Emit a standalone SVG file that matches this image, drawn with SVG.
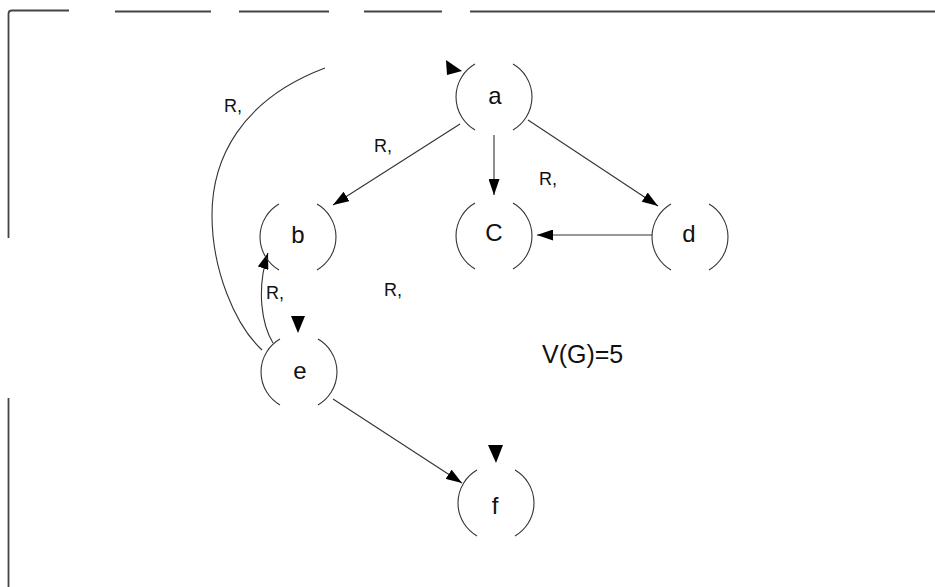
<svg xmlns="http://www.w3.org/2000/svg" xmlns:xlink="http://www.w3.org/1999/xlink" width="935" height="587" viewBox="0 0 935 587">
  <style>
    .frame { stroke: #444; stroke-width: 1.8; fill: none; }
    .ring { stroke: #333; stroke-width: 1.1; fill: none; }
    .edge { stroke: #333; stroke-width: 1.1; fill: none; }
    .head { fill: #000; }
    .node-label { font-family: "Liberation Sans", Arial, sans-serif; font-size: 24px; fill: #111; text-anchor: middle; }
    .region { font-family: "Liberation Sans", Arial, sans-serif; font-size: 18px; fill: #111; }
    .formula { font-family: "Liberation Sans", Arial, sans-serif; font-size: 25px; fill: #111; }
  </style>
  <defs>
    <!-- broken circle: left and right arcs with gaps at top and bottom -->
    <path id="ring" d="M-19,-32.9 A38,38 0 0 0 -19,32.9 M19,-32.9 A38,38 0 0 1 19,32.9"/>
    <marker id="arrow" markerUnits="userSpaceOnUse" markerWidth="16" markerHeight="11" refX="16" refY="5.5" orient="auto">
      <path d="M0,0 L16,5.5 L0,11 z" fill="#000"/>
    </marker>
  </defs>
  <rect width="935" height="587" fill="#fff"/>

  <!-- page frame fragments -->
  <g id="frame" class="frame">
    <path d="M8.5,238 V14 Q8.5,10.5 12,10.5 H69"/>
    <path d="M115,11.5 H211"/>
    <path d="M239,11.5 H329"/>
    <path d="M364,11.5 H442"/>
    <path d="M470,11.5 H935"/>
    <path d="M8.5,398 V587"/>
  </g>

  <!-- connectors -->
  <g id="connectors">
    <path class="edge" d="M460,124 L333,205" marker-end="url(#arrow)"/>
    <path class="edge" d="M494,135 L494,195" marker-end="url(#arrow)"/>
    <path class="edge" d="M528,120 L658,206" marker-end="url(#arrow)"/>
    <path class="edge" d="M652,235 L537,235" marker-end="url(#arrow)"/>
    <path class="edge" d="M333,399 L462,483" marker-end="url(#arrow)"/>
    <path class="edge" d="M273,343 C262,325 256,290 268,253" marker-end="url(#arrow)"/>
    <path class="edge" d="M262,350 C235,325 212,270 212,215 C212,160 240,100 325,68"/>
    <polygon class="head" points="446,60 447,75 462,71"/>
    <polygon class="head" points="291,316 305,316 298,333"/>
    <polygon class="head" points="488,445 503,445 496,463"/>
  </g>

  <!-- nodes -->
  <g id="node-a">
    <use xlink:href="#ring" href="#ring" class="ring" transform="translate(494,97)"/>
    <text class="node-label" x="495" y="104">a</text>
  </g>
  <g id="node-b">
    <use xlink:href="#ring" href="#ring" class="ring" transform="translate(298,237)"/>
    <text class="node-label" x="298" y="243">b</text>
  </g>
  <g id="node-c">
    <use xlink:href="#ring" href="#ring" class="ring" transform="translate(494,236)"/>
    <text class="node-label" x="494" y="241">C</text>
  </g>
  <g id="node-d">
    <use xlink:href="#ring" href="#ring" class="ring" transform="translate(690,237)"/>
    <text class="node-label" x="689" y="242">d</text>
  </g>
  <g id="node-e">
    <use xlink:href="#ring" href="#ring" class="ring" transform="translate(299,372)"/>
    <text class="node-label" x="300" y="379">e</text>
  </g>
  <g id="node-f">
    <use xlink:href="#ring" href="#ring" class="ring" transform="translate(496,503)"/>
    <text class="node-label" x="495" y="514">f</text>
  </g>

  <!-- region labels and complexity -->
  <g id="labels">
    <text class="region" x="224" y="112">R,</text>
    <text class="region" x="374" y="152">R,</text>
    <text class="region" x="539" y="185">R,</text>
    <text class="region" x="266" y="299">R,</text>
    <text class="region" x="384" y="296">R,</text>
    <text class="formula" x="542" y="363">V(G)=5</text>
  </g>
</svg>
